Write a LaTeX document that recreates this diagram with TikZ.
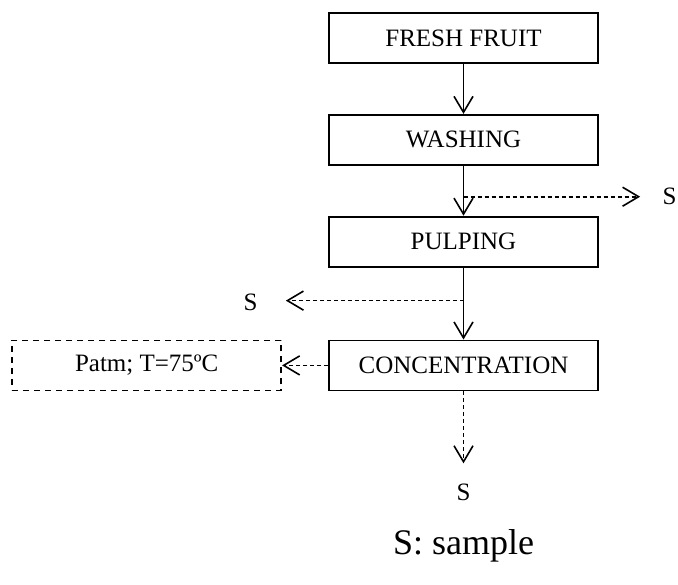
\documentclass[tikz,border=0pt]{standalone}
\usepackage{fontspec}
\setmainfont{Liberation Serif}
\usetikzlibrary{positioning,arrows.meta,calc}

\begin{document}
\begin{tikzpicture}[
  x=0.5pt, y=-0.5pt,
  node distance=25pt,
  font=\fontsize{12.5}{15}\selectfont,
  stage/.style={draw, line width=0.9pt, minimum width=134.5pt, minimum height=25pt, inner sep=0pt},
  cond/.style={stage, dash pattern=on 3pt off 2.5pt},
  lbl/.style={inner sep=0pt},
  arr/.style={line width=0.8pt, -{Straight Barb[length=8pt,width=9.5pt]}},
  sarr/.style={arr, dash pattern=on 2pt off 1.5pt}
]
\useasboundingbox (0,0) rectangle (678,584);
\node[stage] (fruit) at (463.5,38) {FRESH FRUIT};
\node[stage, below=of fruit] (wash) {WASHING};
\node[stage, below=of wash] (pulp) {PULPING};
\node[stage, below=36pt of pulp] (conc) {CONCENTRATION};
\node[cond, left=23pt of conc] (patm) {Patm; T=75ºC};
% sampling points
\coordinate (w1) at ($(wash.south)!0.62!(pulp.north)$);
\coordinate (p1) at ($(pulp.south)!0.46!(conc.north)$);
\node[lbl] (s1) at ($(w1)+(206,0)$) {S};
\node[lbl] (s2) at ($(p1)+(-213,2)$) {S};
\node[lbl, below=46pt of conc] (s3) {S};
\node (key) at (463.5,546) {\fontsize{18}{22}\selectfont S: sample};
\draw[arr] (fruit) -- (wash);
\draw[arr] (wash) -- (pulp);
\draw[arr] (pulp) -- (conc);
\draw[sarr, shorten >=11pt] (w1) -- (s1.west |- w1);
\draw[sarr, shorten >=14pt] (p1) -- (s2.east |- p1);
\draw[sarr] (conc) -- (patm);
\draw[sarr, shorten >=10pt] (conc) -- (s3);
\end{tikzpicture}
\end{document}
